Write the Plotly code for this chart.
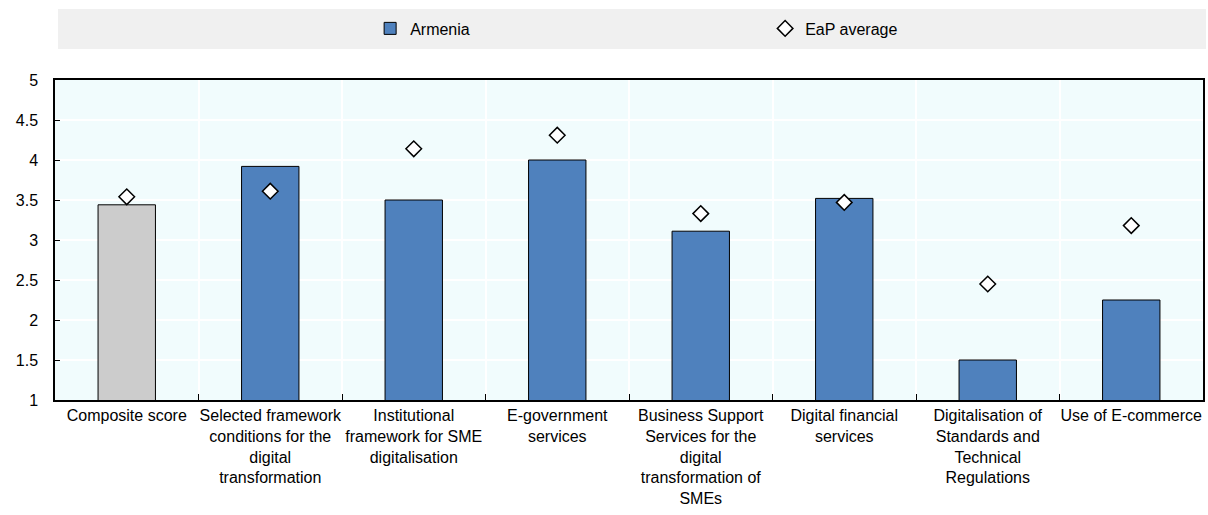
import plotly.graph_objects as go

categories = [
    "Composite score",
    "Selected framework<br>conditions for the<br>digital<br>transformation",
    "Institutional<br>framework for SME<br>digitalisation",
    "E-government<br>services",
    "Business Support<br>Services for the<br>digital<br>transformation of<br>SMEs",
    "Digital financial<br>services",
    "Digitalisation of<br>Standards and<br>Technical<br>Regulations",
    "Use of E-commerce",
]
armenia = [3.44, 3.92, 3.50, 4.00, 3.11, 3.52, 1.50, 2.25]
eap_avg = [3.54, 3.61, 4.14, 4.31, 3.33, 3.47, 2.45, 3.18]
yticks = [1, 1.5, 2, 2.5, 3, 3.5, 4, 4.5, 5]

blue = "#4F81BD"
grey = "#CCCCCC"
font = "Arial, Liberation Sans, sans-serif"

fig = go.Figure()
# composite score drawn in grey, sub-dimensions in blue
fig.add_trace(go.Bar(
    x=categories[:1], y=armenia[:1], name="Armenia", width=0.4, showlegend=False,
    marker=dict(color=grey, line=dict(color="black", width=1)),
))
fig.add_trace(go.Bar(
    x=categories[1:], y=armenia[1:], name="Armenia", width=0.4,
    marker=dict(color=blue, line=dict(color="black", width=1)),
))
fig.add_trace(go.Scatter(
    x=categories, y=eap_avg, name="EaP average", mode="markers",
    marker=dict(symbol="diamond", size=12, color="white",
                line=dict(color="black", width=1.5)),
))

# grey band behind the legend
fig.add_shape(type="rect", xref="paper", yref="paper",
              x0=0.0026, x1=1.0026, y0=1.097, y1=1.222,
              fillcolor="#F0F0F0", line_width=0, layer="below")

fig.update_layout(
    width=1208, height=515,
    margin=dict(l=55, r=3, t=80, b=115),
    paper_bgcolor="white",
    plot_bgcolor="#F1FCFD",
    font=dict(family=font, size=16, color="black"),
    showlegend=True,
    barmode="overlay",
    legend=dict(orientation="h", x=0.2745, xanchor="left", y=1.161, yanchor="middle",
                bgcolor="rgba(0,0,0,0)", entrywidth=350, entrywidthmode="pixels",
                font=dict(size=16), traceorder="normal"),
)
fig.update_xaxes(
    categoryorder="array", categoryarray=categories,
    showline=True, linecolor="black", linewidth=1.5, mirror=True,
    ticks="inside", tickson="boundaries", ticklen=6, tickcolor="black",
    showgrid=True, gridcolor="white", gridwidth=1.5,
    tickfont=dict(size=16), tickangle=0,
)
fig.update_yaxes(
    range=[1, 5], tickvals=yticks, ticktext=[f"{v:g}" for v in yticks],
    showline=True, linecolor="black", linewidth=1.5, mirror=True,
    ticks="inside", ticklen=5, tickcolor="black", ticklabelstandoff=12,
    showgrid=True, gridcolor="white", gridwidth=1.5,
    tickfont=dict(size=16), zeroline=False,
)

fig.write_html("out.html", config={"displayModeBar": False},
               post_script="document.body.style.margin='0';")
